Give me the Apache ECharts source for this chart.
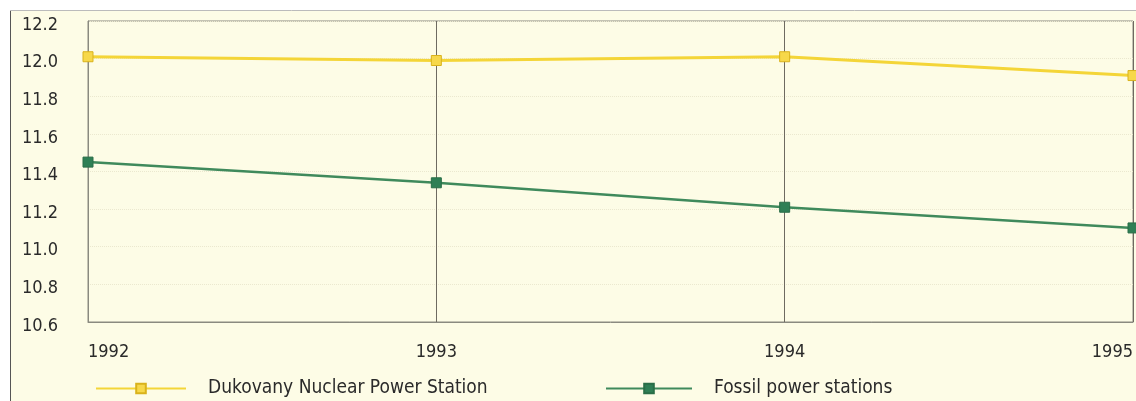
<!DOCTYPE html>
<html>
<head>
<meta charset="utf-8">
<script src="https://cdn.jsdelivr.net/npm/echarts@6/dist/echarts.min.js"></script>
<style>
html,body{margin:0;padding:0;background:#ffffff;}
#c{width:1136px;height:401px;}
</style>
</head>
<body>
<div id="c"></div>
<script>
const categories = ['1992', '1993', '1994', '1995'];
const nuclear = [12.01, 11.99, 12.01, 11.91];
const fossil = [11.45, 11.34, 11.21, 11.10];
const yTicks = [10.6, 10.8, 11.0, 11.2, 11.4, 11.6, 11.8, 12.0, 12.2];
const seriesNames = ['Dukovany Nuclear Power Station', 'Fossil power stations'];

const FONT = '"Liberation Sans Narrow", "DejaVu Sans Condensed", "Liberation Sans", sans-serif';
const chart = echarts.init(document.getElementById('c'));
chart.setOption({
  backgroundColor: 'transparent',
  animation: false,
  graphic: [
    {type: 'rect', left: 10, top: 10, shape: {width: 1126, height: 391}, style: {fill: '#fdfce6', stroke: null}, z: -10},
    {type: 'line', shape: {x1: 10.5, y1: 10, x2: 10.5, y2: 401}, style: {stroke: '#555', lineWidth: 1}},
    {type: 'line', shape: {x1: 10, y1: 10.5, x2: 1136, y2: 10.5}, style: {stroke: '#bbb', lineWidth: 1}}
  ],
  grid: {left: 88, right: 3, top: 21, bottom: 79, show: true, borderColor: '#8a8a80', borderWidth: 1, backgroundColor: 'transparent'},
  legend: [
    {data: [seriesNames[0]], left: 90, top: 374, itemWidth: 90, itemHeight: 12, itemGap: 0,
     textStyle: {fontFamily: FONT, fontSize: 19, color: '#2a2a2a', padding: [0, 0, 0, 17]}},
    {data: [seriesNames[1]], left: 600, top: 374, itemWidth: 86, itemHeight: 12, itemGap: 0,
     textStyle: {fontFamily: FONT, fontSize: 19, color: '#2a2a2a', padding: [0, 0, 0, 17]}}
  ],
  xAxis: {
    type: 'category', data: categories, boundaryGap: false,
    axisLine: {show: true, lineStyle: {color: '#8a8a80'}},
    axisTick: {show: false},
    axisLabel: {fontFamily: FONT, fontSize: 18, color: '#2a2a2a', margin: 21, alignMinLabel: 'left', alignMaxLabel: 'right'},
    splitLine: {show: true, lineStyle: {color: '#6e6a60', width: 1}}
  },
  yAxis: {
    type: 'value', min: 10.6, max: 12.2, interval: 0.2,
    axisLine: {show: true, lineStyle: {color: '#8a8a80'}},
    axisTick: {show: false},
    axisLabel: {fontFamily: FONT, fontSize: 18, color: '#2a2a2a', margin: 30, verticalAlign: 'top', lineHeight: 8,
      formatter: v => { const t = yTicks.find(x => Math.abs(x - v) < 1e-6); return (t !== undefined ? t : v).toFixed(1); }},
    splitLine: {show: true, lineStyle: {color: '#ebe8cf', width: 1, type: 'dotted'}}
  },
  series: [
    {name: seriesNames[0], type: 'line', data: nuclear, symbol: 'rect', symbolSize: 10,
     lineStyle: {color: '#f4d538', width: 3},
     itemStyle: {color: '#f7d84a', borderColor: '#d9b21c', borderWidth: 1}},
    {name: seriesNames[1], type: 'line', data: fossil, symbol: 'rect', symbolSize: 10,
     lineStyle: {color: '#3f8a5c', width: 2.5},
     itemStyle: {color: '#2f7f55', borderColor: '#2a6e48', borderWidth: 1}}
  ]
});
</script>
</body>
</html>
